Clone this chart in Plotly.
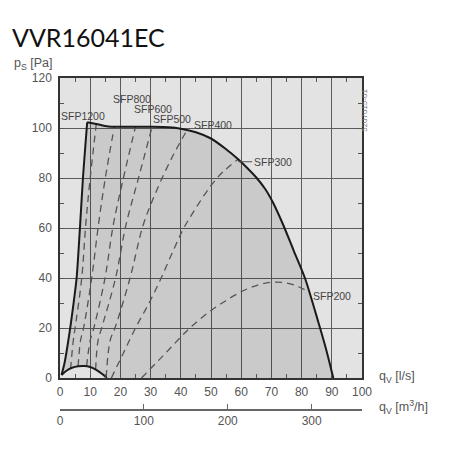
"""Fan curve chart for VVR16041EC: pressure vs airflow with SFP lines."""
import plotly.graph_objects as go

TITLE = "VVR16041EC"

# Max curve, left flank (q [l/s], p [Pa])
LEFT_Q = [0.5, 1.5, 2.5, 3.5, 4.5, 5.5, 6.6, 7.6, 8.4, 9.0]
LEFT_P = [1.2, 6, 13, 21, 30, 40, 60, 80, 93, 102.3]

# Max curve, top and right flank
TOP_Q = [9.0, 12, 16, 20, 30, 36, 40, 45, 50, 55, 59, 62, 65, 68, 70.6,
         74, 77.3, 81.1, 85.5, 88, 90.5]
TOP_P = [102.3, 101.6, 100.6, 100.5, 100.5, 100.3, 99.7, 98.3, 95.8, 91.5,
         87.5, 84, 80.2, 75.5, 70, 61, 51.2, 40, 22.5, 12, 0]

# Min curve (small arc at the bottom left)
MIN_Q = [0.5, 2, 4, 6, 8, 10, 12, 14, 15.5]
MIN_P = [1.2, 2.8, 4.1, 4.7, 4.8, 4.4, 3.3, 1.6, 0]

# SFP curves
SFP = {
    "SFP1200": ([3.5, 4.4, 5.0, 7.2, 8.5, 10, 12],
                [3.6, 15, 20, 40, 61, 80, 101.5]),
    "SFP800": ([6.0, 6.8, 7.8, 10.5, 12.7, 15, 18],
               [4.7, 15, 20, 40, 61, 80, 100.6]),
    "SFP600": ([8.8, 10, 11.2, 14.9, 17.6, 21, 25],
               [4.7, 15, 20, 40, 61, 80, 100.5]),
    "SFP500": ([11.8, 12.6, 13.8, 18.4, 21.8, 26, 30.5],
               [3.4, 15, 20, 40, 61, 80, 100.5]),
    "SFP400": ([15.3, 16.6, 18.2, 23.2, 27.5, 32, 37, 42],
               [0.3, 15, 20, 40, 61, 75, 88, 99]),
    "SFP300": ([17, 21, 25, 29.5, 33.5, 37.5, 41, 45, 50, 54, 59],
               [0, 10, 20, 30, 40, 51, 60, 68, 77, 82.5, 87.5]),
    "SFP200": ([27, 35, 43, 50, 55, 60, 65, 70, 75, 79, 82.2],
               [0, 10, 20, 27, 31, 34.5, 37, 38.3, 38, 36.5, 34.5]),
}

# Label positions (q, p)
SFP_LABEL_Q = {"SFP1200": 7.7, "SFP800": 23.7, "SFP600": 30.9, "SFP500": 37,
               "SFP400": 50.7, "SFP200": 90.2}
SFP_LABEL_P = {"SFP1200": 104.8, "SFP800": 111.6, "SFP600": 107.6,
               "SFP500": 103.6, "SFP400": 101.2, "SFP200": 32.8}

Q_TICKS = list(range(0, 101, 10))
M3H_TICKS = [0, 100, 200, 300]

LABEL_FONT = dict(family="Liberation Sans, Arial, sans-serif", size=10.5, color="#444")
TICK_FONT = dict(family="Liberation Sans, Arial, sans-serif", size=12, color="#555")

fig = go.Figure()

# operating area, darker grey
area_q = LEFT_Q + TOP_Q[1:] + MIN_Q[::-1]
area_p = LEFT_P + TOP_P[1:] + MIN_P[::-1]
fig.add_scatter(x=area_q, y=area_p, fill="toself", fillcolor="rgba(0,0,0,0.11)",
                mode="lines", line=dict(width=0), hoverinfo="skip")

for name, (q, p) in SFP.items():
    fig.add_scatter(x=q, y=p, mode="lines",
                    line=dict(color="#555", width=1.3, dash="7px,5px", shape="spline"),
                    name=name)

for q, p in [(LEFT_Q, LEFT_P), (TOP_Q, TOP_P), (MIN_Q, MIN_P)]:
    fig.add_scatter(x=q, y=p, mode="lines",
                    line=dict(color="#1a1a1a", width=2, shape="spline", smoothing=0.8))

# dummy trace so the m3/h axis is drawn
fig.add_scatter(x=[0], y=[0], xaxis="x2", mode="markers", opacity=0, hoverinfo="skip")

for name, q in SFP_LABEL_Q.items():
    fig.add_annotation(x=q, y=SFP_LABEL_P[name], text=name, showarrow=False,
                       font=LABEL_FONT)
fig.add_annotation(x=59, y=86.5, text="SFP300", showarrow=True, arrowhead=0,
                   arrowwidth=1, arrowcolor="#555", ax=14, ay=0, xanchor="left",
                   font=LABEL_FONT)

fig.add_annotation(xref="paper", yref="paper", x=-0.159, y=1.012, xanchor="left",
                   yanchor="bottom", text="p<sub>S</sub> [Pa]", showarrow=False,
                   font=dict(TICK_FONT, size=12.5))
fig.add_annotation(xref="paper", yref="paper", x=1.05, y=0.122, xanchor="left",
                   text="q<sub>V</sub> [l/s]", showarrow=False, font=dict(TICK_FONT, size=12.5))
fig.add_annotation(xref="paper", yref="paper", x=1.05, y=0.034, xanchor="left",
                   text="q<sub>V</sub> [m<sup>3</sup>/h]", showarrow=False,
                   font=dict(TICK_FONT, size=12.5))
fig.add_annotation(xref="paper", yref="paper", x=1.03, y=0.975, text="5207015-01",
                   textangle=-90, showarrow=False,
                   font=dict(family="Liberation Sans, Arial, sans-serif", size=8, color="#777"))

axis_common = dict(
    showgrid=True, gridcolor="#5c5c5c", gridwidth=1, zeroline=False,
    showline=True, linecolor="#333", linewidth=1.5, mirror="ticks",
    ticks="inside", ticklen=4, tickcolor="#555", tickfont=TICK_FONT,
)
# the page body adds an 8px offset, so the figure is 442px and margins shrink by 8
fig.update_layout(
    width=442, height=442,
    margin=dict(l=52, r=88, t=70, b=20),
    paper_bgcolor="white", plot_bgcolor="#e3e3e3",
    showlegend=False,
    title=dict(text=TITLE, xref="container", x=0.009, xanchor="left", y=0.932,
               yanchor="middle",
               font=dict(family="Lato, sans-serif", size=25, color="#111")),
    xaxis=dict(axis_common, range=[0, 100], tickvals=Q_TICKS, ticklabelstandoff=2,
               minor=dict(dtick=5, ticks="inside", ticklen=4, tickcolor="#555", showgrid=False)),
    yaxis=dict(axis_common, range=[0, 120], dtick=20, domain=[0.1477, 1],
               ticklabelstandoff=4,
               minor=dict(dtick=10, ticks="inside", ticklen=4, tickcolor="#555", showgrid=False)),
    xaxis2=dict(overlaying="x", anchor="free", position=0.0568, range=[0, 360],
                tickvals=M3H_TICKS, showgrid=False, zeroline=False, showline=True,
                linecolor="#666", linewidth=2, ticks="inside", ticklen=5,
                tickcolor="#666", tickfont=TICK_FONT, side="bottom"),
)

fig.write_html("out.html")
